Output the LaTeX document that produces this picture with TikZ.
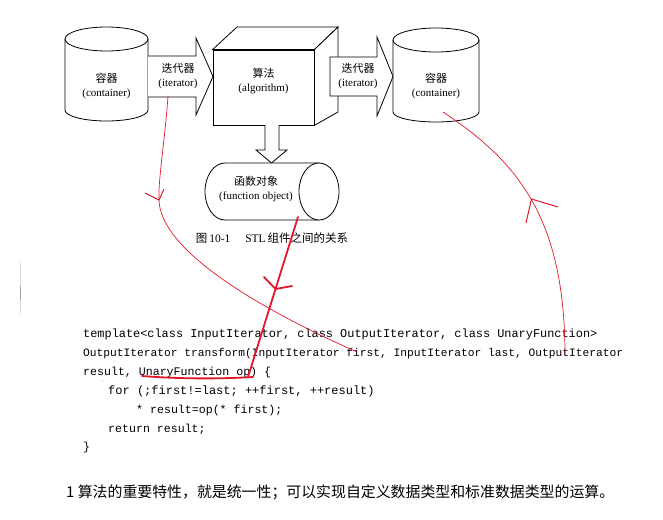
\documentclass[tikz,border=0pt]{standalone}
\usepackage{fontspec}
\setmainfont{Liberation Serif}
\setmonofont{Liberation Mono}
\newfontfamily\cjk{Noto Sans CJK SC}
\usetikzlibrary{positioning, calc}
\definecolor{penred}{RGB}{226,24,40}

\tikzset{
  part/.style={draw, line width=0.8pt, fill=white},
  lbl/.style={align=center, inner sep=0pt, font=\fontsize{11}{14}\selectfont},
  codeline/.style={anchor=base west, inner sep=0pt, font=\ttfamily\fontsize{11.6}{14}\selectfont},
  pen/.style={draw=penred, line width=0.7pt},
  penmark/.style={draw=penred, line width=1pt},
  thickpen/.style={draw=penred, line width=1.8pt, line cap=round},
}

\begin{document}
\begin{tikzpicture}[x=1pt, y=-1pt]
    \useasboundingbox (0,0) rectangle (663,519);

    % containers
    \draw[part] (65,39) -- (65,110) arc[start angle=180, end angle=0, x radius=41.5, y radius=11] -- (148,39);
    \draw[part] (106.5,39) ellipse[x radius=41.5, y radius=12];
    \draw[part] (393,40) -- (393,112) arc[start angle=180, end angle=0, x radius=43, y radius=10] -- (479,40);
    \draw[part] (436,40) ellipse[x radius=43, y radius=12];

    % input iterator
    \draw[part] (148,56) -- (196,56) -- (196,38) -- (213,76.5) -- (196,115) -- (196,97) -- (148,97);

    % algorithm box
    \node[part, minimum width=101pt, minimum height=75pt, inner sep=0pt] (algo) at (263.5,87.5) {};
    \draw[part] (algo.north west) -- (237,27) -- (338,27) -- (algo.north east) -- cycle;
    \draw[part] (algo.north east) -- (338,27) -- (338,112) -- (algo.south east) -- cycle;

    % output iterator
    \draw[part] (330,57) -- (377,57) -- (377,37) -- (393,76.5) -- (377,116) -- (377,96) -- (330,96) -- cycle;

    % function object
    \draw[part] (265,125) -- (265,150) -- (256,150) -- (271.5,163) -- (287,150) -- (279,150) -- (279,125);
    \draw[part] (319,163) -- (225,163) arc[start angle=270, end angle=90, x radius=20, y radius=28.5] -- (319,220);
    \draw[part] (319,191.5) ellipse[x radius=20, y radius=28.5];

    \node[lbl] (cont1) at (106.5,86) {{\cjk 容器}\\(container)};
    \node[lbl] (iter1) at (178,76) {{\cjk 迭代器}\\(iterator)};
    \node[lbl] (algotext) at (263.5,81.5) {{\cjk 算法}\\(algorithm)};
    \node[lbl] (iter2) at (358,76.5) {{\cjk 迭代器}\\(iterator)};
    \node[lbl] (cont2) at (436,86.5) {{\cjk 容器}\\(container)};
    \node[lbl] (func) at (256,189) {{\cjk 函数对象}\\(function object)};

    \node[inner sep=0pt, font=\fontsize{11.5}{14}\selectfont] (caption) at (272,238)
        {{\cjk 图}\,10-1\hspace{1.3em}STL\,{\cjk 组件之间的关系}};

    % code
    \node[codeline, font=\ttfamily\fontsize{11.9}{14}\selectfont] (code1) at (83,337)
        {template<class InputIterator, class OutputIterator, class UnaryFunction>};
    \node[codeline, font=\ttfamily\fontsize{11.25}{14}\selectfont] (code2) at (83,356)
        {OutputIterator transform(InputIterator first, InputIterator last, OutputIterator};
    \node[codeline] (code3) at (83,375) {result, UnaryFunction op) \{};
    \node[codeline, font=\ttfamily\fontsize{12}{14}\selectfont] (code4) at (108,394)
        {for (;first!=last; ++first, ++result)};
    \node[codeline] (code5) at (136,413) {* result=op(* first);};
    \node[codeline] (code6) at (108,432) {return result;};
    \node[codeline] (code7) at (83,450) {\}};

    \node[anchor=west, inner sep=0pt, font=\cjk\fontsize{14.9}{18}\selectfont] (note) at (66,492)
        {1 算法的重要特性，就是统一性；可以实现自定义数据类型和标准数据类型的运算。};

    % scan marks
    \draw[gray!30, line width=0.6pt] (20,263) -- (20,313);
    \draw[gray!70, line width=0.8pt] (20,286) -- (20,300);
    \fill[gray!60] (102,381) circle[radius=0.6];

    % red pen notes
    \coordinate (iterhook) at (168,96);
    \coordinate (bendA) at (159,200);
    \coordinate (firstarg) at (357,352);
    \draw[pen] (iterhook) .. controls (165,140) and (158,180) .. (bendA)
        .. controls (160,245) and (240,300) .. (firstarg);
    \draw[penmark] (145,193) -- (bendA) -- (164,189);

    \coordinate (funcfoot) at (298,217);
    \coordinate (opmark) at (248,377);
    \draw[thickpen] (funcfoot) -- (opmark);
    \draw[thickpen] (264,277) -- (275.5,289) -- (292,286);
    \draw[thickpen] (142,376) .. controls (180,379) and (220,379) .. (253,377);

    \coordinate (cont2hook) at (443,112);
    \coordinate (bendC) at (531.5,199);
    \coordinate (outarg) at (565,355);
    \draw[pen] (cont2hook) .. controls (515,160) and (565,215) .. (outarg);
    \draw[penmark] (526,223) -- (bendC) -- (558,207);
\end{tikzpicture}
\end{document}
